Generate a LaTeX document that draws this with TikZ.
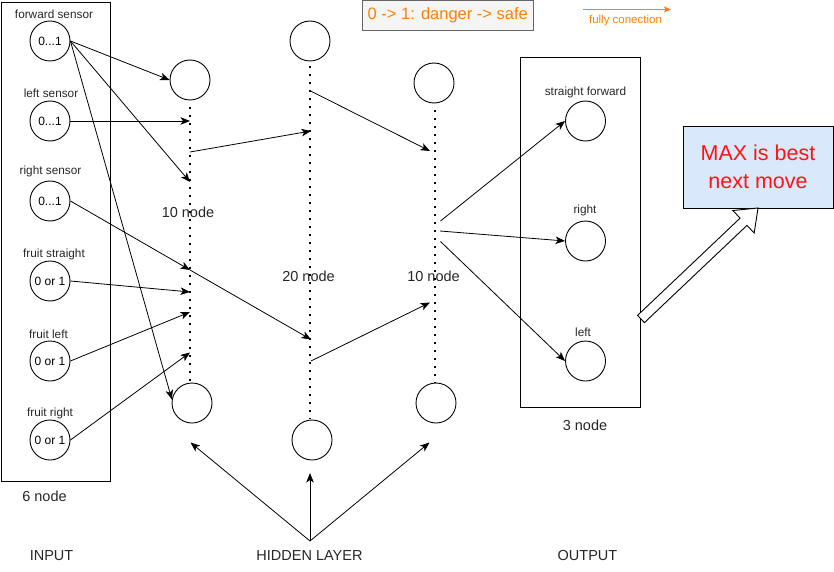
\documentclass[tikz,border=0pt]{standalone}
\usepackage{fontspec}
\setmainfont{Liberation Sans}
\usetikzlibrary{arrows.meta}
\definecolor{orng}{RGB}{255,128,0}
\definecolor{boxgray}{RGB}{245,245,245}
\definecolor{boxline}{RGB}{102,102,102}
\definecolor{maxfill}{RGB}{218,232,252}
\definecolor{maxred}{RGB}{255,20,20}
\begin{document}
\begin{tikzpicture}[x=1pt,y=-1pt,
  neuron/.style={circle,draw,line width=0.9pt,minimum size=40pt,inner sep=0pt,font=\fontsize{12}{14}\selectfont},
  lbl/.style={font=\fontsize{11.8}{14}\selectfont,inner sep=0pt,text=black!85},
  big/.style={font=\fontsize{14.5}{17}\selectfont,inner sep=0pt,text=black!85},
  conn/.style={line width=0.8pt,-{Stealth[length=9.5pt,width=7.5pt,inset=2.5pt]}},
  dotline/.style={line width=1.8pt,dash pattern=on 1.8pt off 6.2pt},
  framebox/.style={draw,line width=0.9pt},
]
\useasboundingbox (0,0) rectangle (834,572);

% ---------- input layer ----------
\draw[framebox] (1,2) rectangle (110,481.5);
\node[neuron] (in1) at (50,41)  {0...1};
\node[neuron] (in2) at (50,121) {0...1};
\node[neuron] (in3) at (50,201) {0...1};
\node[neuron] (in4) at (50,281) {0 or 1};
\node[neuron] (in5) at (50,361) {0 or 1};
\node[neuron] (in6) at (50,440) {0 or 1};
\node[lbl] (l1) at (54,14)    {forward sensor};
\node[lbl] (l2) at (51,93)    {left sensor};
\node[lbl] (l3) at (50.5,171.5) {right sensor};
\node[lbl] (l4) at (54,254)   {fruit straight};
\node[lbl] (l5) at (48.5,334) {fruit left};
\node[lbl] (l6) at (50,413)   {fruit right};
\node[big] (n6) at (44.5,496.5) {6 node};

% ---------- hidden layers ----------
\node[neuron] (h1t) at (190,80)  {};
\node[neuron] (h1b) at (192,403) {};
\node[neuron] (h2t) at (310,41)  {};
\node[neuron] (h2b) at (312,440) {};
\node[neuron] (h3t) at (434,83)  {};
\node[neuron] (h3b) at (436,403) {};
\draw[dotline] (190,107) -- (190,381);
\draw[dotline] (310,66) -- (310,419);
\draw[dotline] (435,110) -- (435,383);
\node[big] (t1) at (188,212.5) {10 node};
\node[big] (t2) at (308.5,276) {20 node};
\node[big] (t3) at (433.5,276) {10 node};

% points on the dotted columns
\coordinate (a1) at (190,121);
\coordinate (a2) at (190,182);
\coordinate (a3) at (190,152);
\coordinate (a4) at (190,270);
\coordinate (a5) at (190,292);
\coordinate (a6) at (190,312);
\coordinate (a7) at (190,352.5);
\coordinate (b1) at (310.5,91);
\coordinate (b2) at (311,131);
\coordinate (b3) at (311,339.5);
\coordinate (b4) at (311,361);
\coordinate (c1) at (430,151);
\coordinate (c2) at (430,302.5);
\coordinate (c3) at (440.5,221);
\coordinate (c4) at (440,231);
\coordinate (c5) at (440.5,241.5);

% ---------- output layer ----------
\draw[framebox] (520,57) rectangle (640,407);
\node[neuron] (o1) at (585.5,121) {};
\node[neuron] (o2) at (585.5,241) {};
\node[neuron] (o3) at (585.5,361) {};
\node[lbl] (ol1) at (585.5,92.5) {straight forward};
\node[lbl] (ol2) at (585,210.5) {right};
\node[lbl] (ol3) at (583,332.5) {left};
\node[big] (n3) at (585,425) {3 node};

% ---------- connections ----------
\draw[conn] (in1.east) -- (h1t.west);
\draw[conn] (in1.east) -- (a2);
\draw[conn] (in1.east) -- (h1b.170);
\draw[conn] (in2.east) -- (a1);
\draw[conn] (in3.east) -- (a4);
\draw[conn] (in4.east) -- (a5);
\draw[conn] (in5.east) -- (a6);
\draw[conn] (in6.east) -- (a7);
\draw[conn] (a3) -- (b2);
\draw[conn] (a4) -- (b3);
\draw[conn] (b1) -- (c1);
\draw[conn] (b4) -- (c2);
\draw[conn] (c3) -- (o1.west);
\draw[conn] (c4) -- (o2.west);
\draw[conn] (c5) -- (o3.west);

% ---------- hidden layer label ----------
\node[big] (hl) at (309.5,556) {HIDDEN LAYER};
\coordinate (apex) at (310,541);
\coordinate (tipl) at (190.5,442.5);
\coordinate (tipm) at (310,473);
\coordinate (tipr) at (429.5,442.5);
\draw[conn] (apex) -- (tipl);
\draw[conn] (apex) -- (tipm);
\draw[conn] (apex) -- (tipr);
\node[big] (inp) at (51.5,556) {INPUT};
\node[big] (outp) at (587.5,556) {OUTPUT};

% ---------- result box and hollow arrow ----------
\node[draw,line width=0.9pt,fill=maxfill,minimum width=150pt,minimum height=82pt,inner sep=0pt,
      align=center,text=maxred,font=\fontsize{21.5}{28}\selectfont] (max) at (758,167.3)
      {MAX is best\\next move};
\begin{scope}[shift={(641,319)},rotate=43.49]
  \draw[line width=0.9pt,fill=white,line join=miter]
    (0,-5) -- (141.3,-5) -- (141.3,-15.5) -- (161.3,0) -- (141.3,15.5) -- (141.3,5) -- (0,5) -- cycle;
\end{scope}

% ---------- legend ----------
\node[draw=boxline,fill=boxgray,line width=0.9pt,minimum width=170.5pt,minimum height=29.5pt,inner sep=0pt,
      text=orng,font=\fontsize{16.5}{19}\selectfont] (legend) at (447.8,15.3) {0 -> 1: danger -> safe};
\coordinate (fcs) at (583,9.5);
\coordinate (fce) at (671,9.5);
\draw[orng,line width=0.9pt,-{Stealth[length=7pt,width=6pt,inset=1.5pt]}] (fcs) -- (fce);
\node[text=orng,font=\fontsize{11.5}{13}\selectfont,inner sep=0pt] (fc) at (625.5,21) {fully conection};
\end{tikzpicture}
\end{document}
